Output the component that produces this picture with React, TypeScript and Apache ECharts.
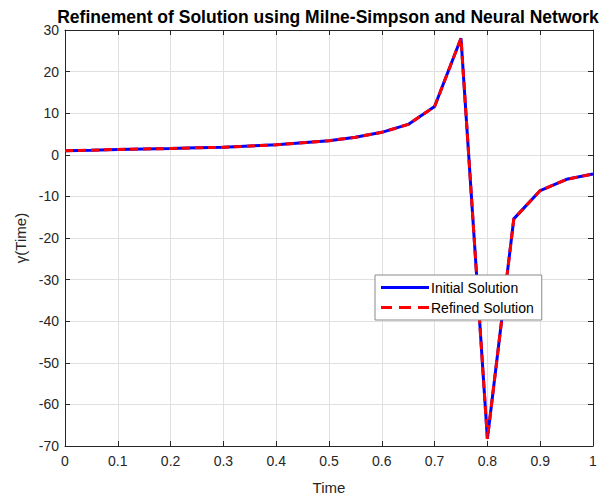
import React, { useEffect, useRef } from "react";
import * as echarts from "echarts";

const times = [0, 0.05, 0.1, 0.15, 0.2, 0.25, 0.3, 0.35, 0.4, 0.45, 0.5, 0.55, 0.6, 0.65, 0.7, 0.75, 0.8, 0.85, 0.9, 0.95, 1.0];
const initialSolution = [1.0, 1.1, 1.3, 1.4, 1.5, 1.7, 1.8, 2.1, 2.4, 2.9, 3.4, 4.2, 5.4, 7.3, 11.6, 28.0, -68.3, -15.4, -8.6, -5.9, -4.6];
const refinedSolution = [1.0, 1.1, 1.3, 1.4, 1.5, 1.7, 1.8, 2.1, 2.4, 2.9, 3.4, 4.2, 5.4, 7.3, 11.6, 28.0, -68.3, -15.4, -8.6, -5.9, -4.6];

const FONT = "Liberation Sans, Arial, sans-serif";

export default function App() {
  const ref = useRef<HTMLDivElement>(null);
  useEffect(() => {
    if (!ref.current) return;
    const chart = echarts.init(ref.current, undefined, { renderer: "svg" });
    const axisLine = { show: true, onZero: false, lineStyle: { color: "#262626", width: 1 } };
    const gridLine = { show: true, lineStyle: { color: "#e0e0e0", width: 1 } };
    const tick = { show: true, inside: true, length: 5, lineStyle: { color: "#262626" } };
    chart.setOption({
      animation: false,
      backgroundColor: "#ffffff",
      title: {
        text: "Refinement of Solution using Milne-Simpson and Neural Network",
        left: 323,
        textAlign: "center",
        top: 3,
        textStyle: { fontFamily: FONT, fontSize: 17.5, fontWeight: "bold", color: "#000" },
      },
      grid: { left: 65, right: 21, top: 30, bottom: 55, containLabel: false },
      legend: {
        data: [
          { name: "Initial Solution", icon: "path://M0,0 L48,0 L48,3 L0,3 Z" },
          { name: "Refined Solution", icon: "path://M0,0 L11,0 L11,3 L0,3 Z M18,0 L30,0 L30,3 L18,3 Z M37,0 L48,0 L48,3 L37,3 Z" },
        ],
        orient: "vertical",
        left: 375,
        top: 275,
        itemWidth: 48,
        itemHeight: 3,
        itemGap: 5,
        padding: [5, 8, 5, 6],
        backgroundColor: "#fff",
        borderColor: "#8a8a8a",
        borderWidth: 1,
        textStyle: { fontFamily: FONT, fontSize: 14, color: "#000", padding: [0, 0, 0, -3], lineHeight: 15 },
      },
      xAxis: [
        {
          type: "value",
          min: 0,
          max: 1,
          interval: 0.1,
          position: "bottom",
          name: "Time",
          nameLocation: "middle",
          nameGap: 34,
          nameTextStyle: { fontFamily: FONT, fontSize: 15, color: "#262626" },
          axisLine,
          axisTick: tick,
          axisLabel: { fontFamily: FONT, fontSize: 14, color: "#262626", margin: 8 },
          splitLine: gridLine,
        },
        {
          type: "value",
          min: 0,
          max: 1,
          interval: 0.1,
          position: "top",
          axisLine,
          axisTick: tick,
          axisLabel: { show: false },
          splitLine: { show: false },
        },
      ],
      yAxis: [
        {
          type: "value",
          min: -70,
          max: 30,
          interval: 10,
          position: "left",
          name: "γ(Time)",
          nameLocation: "middle",
          nameGap: 36,
          nameTextStyle: { fontFamily: FONT, fontSize: 15, color: "#262626" },
          axisLine,
          axisTick: tick,
          axisLabel: { fontFamily: FONT, fontSize: 14, color: "#262626", margin: 6 },
          splitLine: gridLine,
        },
        {
          type: "value",
          min: -70,
          max: 30,
          interval: 10,
          position: "right",
          axisLine,
          axisTick: tick,
          axisLabel: { show: false },
          splitLine: { show: false },
        },
      ],
      series: [
        {
          name: "Initial Solution",
          type: "line",
          data: times.map((t, i) => [t, initialSolution[i]]),
          showSymbol: false,
          symbol: "none",
          color: "#0000ff",
          lineStyle: { color: "#0000ff", width: 3 },
        },
        {
          name: "Refined Solution",
          type: "line",
          data: times.map((t, i) => [t, refinedSolution[i]]),
          showSymbol: false,
          symbol: "none",
          color: "#ff0000",
          lineStyle: { color: "#ff0000", width: 3, type: [8, 5] },
        },
      ],
    });
    return () => chart.dispose();
  }, []);
  return <div ref={ref} style={{ width: 614, height: 501, position: "absolute", left: 0, top: 0 }} />;
}
